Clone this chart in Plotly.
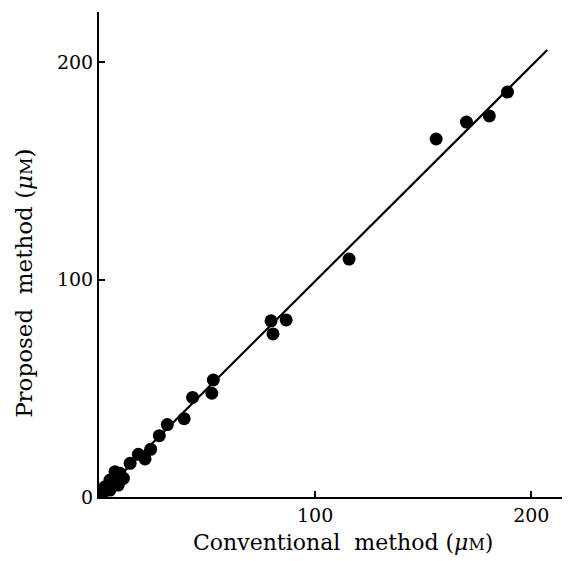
import plotly.graph_objects as go

conventional = [1.8, 2.8, 5.1, 5.1, 7.4, 7.4, 8.9, 9.7, 11.3, 14.4, 18.2, 21.3, 23.9, 27.9,
                31.6, 39.4, 43.3, 52.2, 52.9, 79.6, 80.5, 86.6, 115.7,
                156.0, 170.0, 180.6, 189.0]
proposed = [2.0, 4.7, 3.2, 7.8, 7.0, 11.6, 5.5, 10.9, 8.6, 15.5, 19.6, 17.5, 21.9, 28.2,
            33.3, 36.0, 45.8, 47.7, 53.8, 81.0, 75.0, 81.4, 109.4,
            164.6, 172.4, 175.2, 186.2]
line_x = [0, 207.4]
line_y = [0.3, 205.5]

x_ticks = [100, 200]
y_ticks = [0, 100, 200]

x_title = "Conventional  method (<i>μ</i><span style='font-size:16px'>M</span>)"
y_title = "Proposed  method (<i>μ</i><span style='font-size:17px'>M</span>)"

font_family = "DejaVu Serif, Liberation Serif, serif"

fig = go.Figure()
fig.add_trace(go.Scatter(x=line_x, y=line_y, mode="lines",
                         line=dict(color="black", width=2.2), showlegend=False))
fig.add_trace(go.Scatter(x=conventional, y=proposed, mode="markers",
                         marker=dict(color="black", size=13), showlegend=False))

fig.add_annotation(text=x_title, xref="x", x=113, yref="paper", y=0, yshift=-45,
                   xanchor="center", yanchor="middle", showarrow=False,
                   font=dict(size=22))
fig.add_annotation(text=y_title, xref="paper", x=0, xshift=-75, yref="y", y=98,
                   xanchor="center", yanchor="middle", showarrow=False, textangle=-90,
                   font=dict(size=23))

fig.update_layout(
    width=570, height=561,
    margin=dict(l=91, r=2, t=4, b=72),
    plot_bgcolor="white", paper_bgcolor="white",
    font=dict(family=font_family, color="black", size=19),
    xaxis=dict(range=[0, 220.7], tickvals=x_ticks, ticktext=[str(v) for v in x_ticks],
               ticks="inside", ticklen=6, tickwidth=2, tickcolor="black",
               showline=True, linecolor="black", linewidth=2, showgrid=False, zeroline=False),
    yaxis=dict(range=[0, 223], tickvals=y_ticks, ticktext=[str(v) for v in y_ticks],
               ticks="inside", ticklen=6, tickwidth=2, tickcolor="black",
               showline=True, linecolor="black", linewidth=2, showgrid=False, zeroline=False),
)

fig.write_html("out.html")
